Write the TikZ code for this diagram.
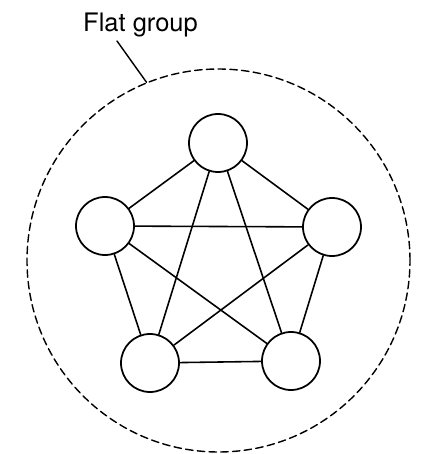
\documentclass[tikz,border=0pt]{standalone}
\usepackage{fontspec}
\newfontfamily\labelfont{TeX Gyre Heros}

\begin{document}
\begin{tikzpicture}[line cap=round, line join=round]
	% Picture bounds
	\useasboundingbox (0,0) rectangle (8.92,9.08);
	
	\tikzset{
		proc/.style={circle, draw, line width=1pt, minimum size=1.16cm, inner sep=0pt, fill=white},
		link/.style={line width=0.9pt},
		group/.style={circle, draw, dash pattern=on 0.15cm off 0.085cm, line width=0.8pt, minimum size=7.66cm, inner sep=0pt}
	}
	
	% Dashed boundary of the group
	\node[group] (grp) at (4.37,3.87) {};
	
	% Five processes, roughly on a pentagon
	\node[proc] (p0) at (4.36,6.22) {};
	\node[proc] (p1) at (2.10,4.56) {};
	\node[proc] (p2) at (3.00,1.82) {};
	\node[proc] (p3) at (5.82,1.86) {};
	\node[proc] (p4) at (6.64,4.54) {};
	
	% Every process talks to every other one
	\foreach \a/\b in {0/1,0/2,0/3,0/4,1/2,1/3,1/4,2/3,2/4,3/4}
	\draw[link] (p\a) -- (p\b);
	
	% Label and its leader line
	\node[anchor=base, font=\labelfont\fontsize{14.5}{17}\selectfont, inner sep=0pt] (lbl) at (2.81,8.446) {Flat group};
	\coordinate (lead) at (2.34,8.26);
	\draw[line width=0.8pt] (lead) -- (grp.112);
\end{tikzpicture}
\end{document}
